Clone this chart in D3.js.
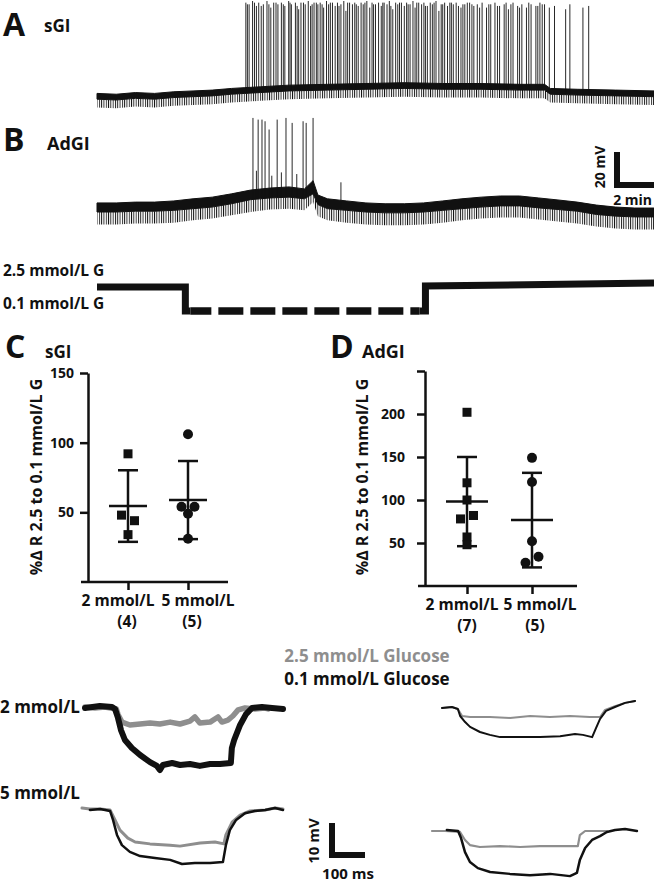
<!DOCTYPE html>
<html>
<head>
<meta charset="utf-8">
<title>sGI and AdGI neurons</title>
<script src="https://cdn.jsdelivr.net/npm/d3@7"></script>
<style>
  body { margin: 0; background: #fff; }
  svg { font-family: 'Open Sans', sans-serif; font-weight: 700; }
</style>
</head>
<body>
<svg id="fig" width="654" height="885"></svg>
<script>
// ---- long recordings (time in min, potential in mV) ----
const envTimesA = [0, 1, 2, 3, 4, 5, 6, 7, 7.7, 8.5, 10, 12, 14, 16, 18, 20, 22, 23.3, 23.6, 25, 27, 29];
const topA = [-56, -56.5, -55.5, -56, -55, -54.5, -54, -53, -52.5, -52, -51, -50.5, -50, -49.5, -50, -50, -50.5, -50.5, -53, -53.5, -54, -54.5];
const midA = [-59.5, -60, -59, -59.5, -58.5, -58, -57.5, -56.5, -56, -55.5, -54.5, -54, -53.5, -53, -53.5, -53.5, -54, -54, -56.5, -57, -57.5, -58];
const lowA = [-64.5, -65, -64, -64.5, -63.5, -63, -62.5, -61.5, -61, -60.5, -59.5, -59, -58.5, -58, -58.5, -58.5, -59, -59, -61.5, -62, -62.5, -63];
const spikesA = [[7.75,-1],[7.83,-2],[7.92,-2],[8.1,0],[8.2,-1],[8.3,-3],[8.42,-1],[8.55,-3],[8.66,-2],[8.85,0],[8.95,-2],[9.05,-4],[9.2,-1],[9.32,-1],[9.42,-2],[9.6,-1],[9.7,-2],[9.78,-3],[9.98,0],[10.05,-1],[10.12,-2],[10.33,-1],[10.42,-3],[10.5,-5],[10.62,-1],[10.75,-1],[10.84,-2],[11.0,0],[11.12,-3],[11.2,-2],[11.3,-1],[11.42,-1],[11.5,-2],[11.62,-1],[11.72,-2],[11.8,-4],[11.95,0],[12.06,-2],[12.15,-1],[12.26,-1],[12.4,-3],[12.52,-1],[12.6,-3],[12.7,-2],[12.85,0],[12.96,-6],[13.05,-1],[13.15,-1],[13.3,-2],[13.42,-1],[13.5,-2],[13.6,-3],[13.75,-1],[13.86,-2],[13.95,-1],[14.05,0],[14.2,-4],[14.32,-1],[14.4,-2],[14.5,-2],[14.66,-1],[14.8,-3],[14.88,-1],[14.95,-1],[15.1,-2],[15.22,0],[15.3,-3],[15.4,-5],[15.55,-1],[15.66,-2],[15.75,-1],[15.85,-1],[16.0,-3],[16.12,-1],[16.2,-2],[16.3,-2],[16.45,0],[16.56,-4],[16.65,-1],[16.75,-1],[16.9,-2],[17.02,-1],[17.1,-3],[17.2,-3],[17.35,-1],[17.46,-2],[17.55,-1],[17.65,0],[17.8,-6],[17.92,-2],[18.0,-2],[18.1,-1],[18.25,-3],[18.37,-1],[18.45,-1],[18.55,-2],[18.7,-1],[18.82,-3],[18.95,-4],[19.05,-2],[19.15,-2],[19.28,-1],[19.4,-1],[19.52,-2],[19.62,-3],[19.8,-2],[19.92,-4],[20.05,-1],[20.28,-4],[20.4,-2],[20.5,-2],[20.72,-1],[20.85,-3],[20.96,-3],[21.2,-2],[21.3,-1],[21.42,-5],[21.55,-2],[21.66,-1],[21.9,-3],[22.0,-4],[22.12,-2],[22.36,-4],[22.48,-1],[22.6,-2],[22.85,-3],[22.95,-3],[23.06,-1],[23.18,-2],[23.3,-2],[23.55,-4],[23.82,-3],[24.4,-5],[24.62,-2],[25.3,-4],[25.6,-3]];

const envTimesB = [0, 1, 2, 3, 4, 5, 6, 7, 8, 9, 10, 10.8, 11.25, 11.5, 12, 13, 14, 15, 16, 17, 18, 19, 20, 21, 22, 23, 24, 25, 26, 27, 28, 29];
const topB = [-54.5, -54.5, -54, -54, -53.3, -52, -51, -49, -46.7, -45.5, -44.8, -46, -41, -49.7, -52, -53.3, -54.5, -55, -55, -54.5, -53.3, -52, -51, -50.3, -50.3, -51.5, -52.7, -54, -55.8, -57, -57.6, -57.6];
const midB = [-60, -60, -59.5, -59.5, -59, -58, -57, -55, -52.5, -51.5, -51, -52, -49, -55.5, -58, -59, -60, -60.5, -60.5, -60, -59, -58, -57, -56.3, -56.3, -57.5, -58.5, -59.5, -61.5, -62.5, -63, -63];
const lowB = [-67.5, -67.5, -67, -67, -66.5, -65, -64, -62, -60, -58.5, -58, -59, -54, -62.5, -65, -66.5, -67.5, -68, -68, -67.5, -66.5, -65, -64, -63.3, -63.3, -64.5, -65.7, -67, -68.8, -70, -70.6, -70.6];
const spikesB = [[8.12,-3],[8.3,-35],[8.39,-4],[8.59,-4],[8.75,-5],[8.96,-10],[9.1,-38],[9.38,-4],[9.6,-36],[9.84,-3],[10.16,-6],[10.4,-37],[10.73,-5],[10.89,-6],[11.25,-3],[12.7,-42]];

// ---- glucose protocol (mmol/L) ----
const stepStart = [0, 4.6, 17.1];
const stepEnd = [4.6, 17.1, 29];
const stepLevel = [2.5, 0.1, 2.5];

// ---- scatter panels (% change in R) ----
const groups = ["2 mmol/L", "5 mmol/L"];
const nLabels = { C: ["(4)", "(5)"], D: ["(7)", "(5)"] };
const sGI2 = [92, 48, 44, 34];
const sGI2slot = [0, -1, 1, 0];
const sGI5 = [106, 54, 54, 49, 31];
const sGI5slot = [0, -1, 1, 0, 0];
const AdGI2 = [202, 120, 100, 78, 82, 57, 48];
const AdGI2slot = [0, 0, 0, -1, 1, 0, 0];
const AdGI5 = [149, 121, 52, 27, 34];
const AdGI5slot = [0, 0, 0, -1, 1];
const ticksC = [50, 100, 150];
const ticksD = [50, 100, 150, 200, 250];

// ---- voltage responses to current steps (ms, mV relative to rest) ----
const sGI2gray = [[0,0.3],[30,0],[60,0.3],[95,-0.3],[100,-2],[112,-4.4],[136,-5.3],[167,-5],[197,-4.7],[227,-5],[258,-4.4],[288,-5],[318,-4.1],[333,-2.8],[348,-4.7],[379,-4.4],[403,-2.8],[415,-4.4],[433,-3.8],[448,-2.5],[464,-0.6],[485,0],[515,-0.3],[545,0],[555,-0.3]];
const sGI2black = [[0,0],[45,0.6],[82,0.3],[91,-0.3],[100,-3.1],[109,-6.9],[121,-10],[142,-12.5],[167,-14.7],[197,-16.9],[218,-18.1],[227,-19.4],[236,-17.8],[264,-17.2],[288,-17.8],[318,-17.5],[348,-18.1],[379,-17.5],[409,-17.5],[442,-17.2],[445,-12.5],[452,-10],[470,-5.3],[488,-1.9],[506,0],[536,0.3],[567,0],[600,-0.3]];
const AdGI2gray = [[0,0],[30,0.3],[48,-0.3],[61,-2.5],[85,-2.8],[145,-2.8],[206,-3.1],[267,-2.5],[327,-2.8],[388,-2.5],[448,-2.8],[479,-2.8],[494,-0.6],[524,0.6],[555,1.6],[585,2.2]];
const AdGI2black = [[0,0],[30,0.3],[48,-0.3],[55,-2.5],[70,-4.4],[85,-5.9],[115,-7.5],[145,-8.4],[176,-9.1],[236,-9.1],[297,-9.1],[358,-8.8],[403,-8.1],[427,-8.4],[455,-9.1],[467,-6.2],[479,-3.4],[497,-0.9],[524,0.3],[555,1.6],[585,2.2]];
const sGI5gray = [[0,0.3],[24,0],[55,0],[85,-0.3],[100,-3.4],[115,-6.6],[139,-9.1],[161,-10.3],[206,-10.9],[267,-11.3],[297,-11.6],[358,-10.6],[403,-10.3],[430,-10.9],[436,-8.1],[455,-4.1],[479,-1.9],[509,-0.6],[555,-0.3],[585,0.3],[609,0]];
const sGI5black = [[24,-0.3],[55,0],[85,-0.6],[94,-3.4],[106,-8.1],[121,-11.3],[145,-13.4],[176,-14.7],[221,-15.3],[267,-15.9],[303,-17.2],[342,-16.9],[388,-16.9],[427,-16.6],[436,-11.3],[448,-6.6],[467,-3.4],[494,-1.3],[524,-0.6],[555,-0.3],[585,0.3],[609,-0.3]];
const AdGI5gray = [[0,0],[39,0],[85,-0.3],[100,-2.8],[115,-4.4],[145,-5],[206,-4.7],[267,-5],[327,-4.7],[388,-4.7],[442,-4.7],[448,-1.3],[464,0],[509,0],[530,0]];
const AdGI5black = [[45,0.3],[79,0],[88,-2.2],[100,-6.6],[115,-9.7],[139,-11.6],[176,-12.8],[236,-13.4],[297,-13.8],[358,-13.4],[418,-14.1],[439,-13.1],[448,-9.1],[464,-5.3],[485,-2.8],[509,-1.6],[530,-0.3],[555,0.3],[585,0.6],[621,0]];

const svg = d3.select("#fig");
const ink = "#111";
const grey = "#8e8e8e";

function label(x, y, txt, size, opts = {}) {
  const t = svg.append("text").attr("x", x).attr("y", y).attr("font-size", size)
    .attr("fill", opts.fill || ink).attr("text-anchor", opts.anchor || "start").text(txt);
  if (opts.rotate) t.attr("transform", `rotate(-90,${x},${y})`);
  return t;
}

// ---------- A / B long traces ----------
const tx = d3.scaleLinear().domain([0, 29]).range([97, 654]);
const vA = d3.scaleLinear().domain([-60, 0]).range([100, 1]);
const vB = d3.scaleLinear().domain([-60, 0]).range([212, 113]);

svg.append("defs").append("pattern").attr("id", "pulses")
  .attr("width", 2.3).attr("height", 10).attr("patternUnits", "userSpaceOnUse")
  .append("rect").attr("width", 0.9).attr("height", 10).attr("fill", ink);

function at(times, vals, t) {
  const i = Math.max(1, Math.min(times.length - 1, d3.bisectLeft(times, t)));
  const f = (t - times[i - 1]) / (times[i] - times[i - 1]);
  return vals[i - 1] + f * (vals[i] - vals[i - 1]);
}

function longTrace(times, top, mid, low, spikes, v) {
  const rows = times.map((t, i) => ({ t, top: top[i], mid: mid[i], low: low[i] }));
  svg.append("path").datum(rows)
    .attr("d", d3.area().x(d => tx(d.t)).y0(d => v(d.low)).y1(d => v(d.mid)))
    .attr("fill", "url(#pulses)");
  svg.append("path").datum(rows)
    .attr("d", d3.area().x(d => tx(d.t)).y0(d => v(d.mid)).y1(d => v(d.top)))
    .attr("fill", ink).attr("stroke", ink).attr("stroke-width", 1);
  svg.append("g").selectAll("line").data(spikes).join("line")
    .attr("x1", d => tx(d[0])).attr("x2", d => tx(d[0]))
    .attr("y1", d => v(at(times, mid, d[0]))).attr("y2", d => v(d[1]))
    .attr("stroke", ink).attr("stroke-width", 0.9);
}

longTrace(envTimesA, topA, midA, lowA, spikesA, vA);
longTrace(envTimesB, topB, midB, lowB, spikesB, vB);

label(3, 36, "A", 32);
label(44, 32, "sGI", 17);
label(3, 151, "B", 32);
label(47, 150, "AdGI", 18);

// 20 mV / 2 min bar
const barX = 617, barY = vB(-60) - 27;
svg.append("path")
  .attr("d", `M${barX},${barY - (vB(-60) - vB(-40))} V${barY} H${barX + tx(2) - tx(0)}`)
  .attr("fill", "none").attr("stroke", ink).attr("stroke-width", 6);
label(605, 167, "20 mV", 14, { anchor: "middle", rotate: true });
label(652, 205, "2 min", 14, { anchor: "end" });

// glucose protocol
const gy = d3.scaleLinear().domain([0.1, 2.5]).range([311, 287]);
const stepPath = d3.path();
stepPath.moveTo(tx(stepStart[0]), gy(stepLevel[0]));
stepPath.lineTo(tx(stepEnd[0]), gy(stepLevel[0]));
stepPath.lineTo(tx(stepEnd[0]), gy(stepLevel[1]));
stepPath.lineTo(tx(stepEnd[0]) + 5, gy(stepLevel[1]));
svg.append("path").attr("d", stepPath.toString()).attr("fill", "none")
  .attr("stroke", ink).attr("stroke-width", 7);
svg.append("line")
  .attr("x1", tx(stepStart[1]) + 5).attr("x2", tx(stepEnd[1]) - 6)
  .attr("y1", gy(stepLevel[1])).attr("y2", gy(stepLevel[1]))
  .attr("stroke", ink).attr("stroke-width", 7.5)
  .attr("stroke-dasharray", "25,7").attr("stroke-dashoffset", 4);
const risePath = d3.path();
risePath.moveTo(tx(stepStart[2]) - 6, gy(stepLevel[1]));
risePath.lineTo(tx(stepStart[2]), gy(stepLevel[1]));
risePath.lineTo(tx(stepStart[2]), gy(stepLevel[2]) - 1);
risePath.lineTo(tx(stepEnd[2]), gy(stepLevel[2]) - 4);
svg.append("path").attr("d", risePath.toString()).attr("fill", "none")
  .attr("stroke", ink).attr("stroke-width", 7);
label(3, 276, "2.5 mmol/L G", 15.5);
label(3, 309, "0.1 mmol/L G", 15.5);

// ---------- C / D scatter ----------
function scatter(p) {
  const y = d3.scaleLinear().domain([0, p.max]).range([p.y0, p.yTop]);
  const x = d3.scalePoint().domain(groups).range(p.cats);
  const g = svg.append("g");
  const ya = g.append("g").attr("transform", `translate(${p.axisX},0)`)
    .call(d3.axisLeft(y).tickValues(p.ticks).tickSize(8).tickSizeOuter(0).tickPadding(p.pad)
      .tickFormat(d => p.labelled.includes(d) ? d : ""));
  ya.select(".domain").attr("stroke-width", 2.5).attr("stroke", ink);
  ya.selectAll(".tick line").attr("stroke-width", 2.5).attr("stroke", ink);
  ya.selectAll(".tick text").attr("font-size", 14).attr("font-family", "'Open Sans', sans-serif")
    .attr("font-weight", 700).attr("fill", ink);
  g.append("line").attr("x1", p.axisX - 7).attr("x2", p.xEnd)
    .attr("y1", y(0)).attr("y2", y(0)).attr("stroke", ink).attr("stroke-width", 2.5);
  const xa = g.append("g").attr("transform", `translate(0,${y(0)})`)
    .call(d3.axisBottom(x).tickSize(8).tickSizeOuter(0).tickFormat(""));
  xa.select(".domain").remove();
  xa.selectAll(".tick line").attr("stroke-width", 2.5).attr("stroke", ink);

  p.sets.forEach((vals, k) => {
    const cx = x(groups[k]);
    const m = d3.mean(vals), sd = d3.deviation(vals);
    g.append("line").attr("x1", cx).attr("x2", cx).attr("y1", y(m + sd)).attr("y2", y(m - sd))
      .attr("stroke", ink).attr("stroke-width", 2.5);
    [m + sd, m - sd].forEach(v => g.append("line").attr("x1", cx - 10).attr("x2", cx + 10)
      .attr("y1", y(v)).attr("y2", y(v)).attr("stroke", ink).attr("stroke-width", 2.5));
    g.append("line").attr("x1", cx - p.meanW / 2).attr("x2", cx + p.meanW / 2)
      .attr("y1", y(m)).attr("y2", y(m)).attr("stroke", ink).attr("stroke-width", 2.5);
    vals.forEach((v, i) => {
      const px = cx + p.slots[k][i] * 6.5;
      if (k === 0) g.append("rect").attr("x", px - 4.5).attr("y", y(v) - 4.5)
        .attr("width", 9).attr("height", 9).attr("fill", ink);
      else g.append("circle").attr("cx", px).attr("cy", y(v)).attr("r", 5).attr("fill", ink);
    });
    label(p.nameX[k], p.y0 + 24, groups[k], 15.5, { anchor: "middle" });
    label(cx + p.nShift[k], p.y0 + 45, p.n[k], 15.5, { anchor: "middle" });
  });
  label(p.titleX, 477, "%\u2206 R 2.5 to 0.1 mmol/L G", 16, { anchor: "middle", rotate: true });
}

scatter({ max: 150, y0: 582, yTop: 373, axisX: 88, xEnd: 228, cats: [128, 188], ticks: ticksC, labelled: ticksC,
  pad: 6, meanW: 38, sets: [sGI2, sGI5], slots: [sGI2slot, sGI5slot], nameX: [118, 198], n: nLabels.C,
  nShift: [-1, 4], titleX: 42 });
scatter({ max: 250, y0: 586, yTop: 371, axisX: 425, xEnd: 577, cats: [467, 532], ticks: ticksD, labelled: [50, 100, 150, 200],
  pad: 12, meanW: 42, sets: [AdGI2, AdGI5], slots: [AdGI2slot, AdGI5slot], nameX: [462, 540], n: nLabels.D,
  nShift: [0, 3], titleX: 368 });

label(5, 358, "C", 32);
label(45, 358, "sGI", 17);
label(330, 358, "D", 32);
label(362, 358, "AdGI", 18);

// ---------- bottom sweeps ----------
function sweep(data, x0, y0, color, w) {
  const xs = d3.scaleLinear().domain([0, 100]).range([x0, x0 + 33]);
  const ys = d3.scaleLinear().domain([0, 10]).range([y0, y0 - 32]);
  svg.append("path").datum(data)
    .attr("d", d3.line().x(d => xs(d[0])).y(d => ys(d[1])))
    .attr("fill", "none").attr("stroke", color).attr("stroke-width", w)
    .attr("stroke-linejoin", "round").attr("stroke-linecap", "round");
  return { xs, ys };
}

sweep(sGI2gray, 85, 708, grey, 5.5);
sweep(sGI2black, 85, 708, ink, 6);
sweep(AdGI2gray, 442, 708, grey, 2);
sweep(AdGI2black, 442, 708, ink, 2);
sweep(sGI5gray, 82, 809, grey, 3);
sweep(sGI5black, 82, 809, ink, 2.5);
sweep(AdGI5gray, 432, 831, grey, 2.2);
const sc = sweep(AdGI5black, 432, 831, ink, 2.5);

// 10 mV / 100 ms bar
const bx = 332, by = 855;
svg.append("path")
  .attr("d", `M${bx},${by - (sc.ys(0) - sc.ys(10))} V${by} H${bx + sc.xs(100) - sc.xs(0)}`)
  .attr("fill", "none").attr("stroke", ink).attr("stroke-width", 6);
label(319, 841, "10 mV", 15, { anchor: "middle", rotate: true });
label(348, 879, "100 ms", 15, { anchor: "middle" });

label(367, 662, "2.5 mmol/L Glucose", 17, { anchor: "middle", fill: grey });
label(367, 685, "0.1 mmol/L Glucose", 17, { anchor: "middle" });
label(0, 713, "2 mmol/L", 17);
label(0, 799, "5 mmol/L", 17);
</script>
</body>
</html>
